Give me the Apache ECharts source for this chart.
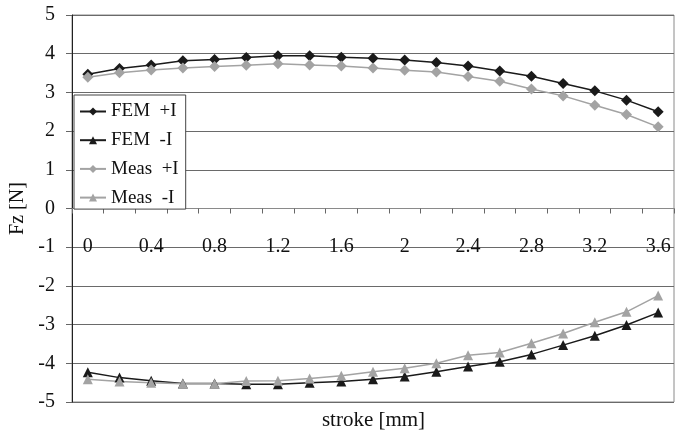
<!DOCTYPE html>
<html>
<head>
<meta charset="utf-8">
<script src="https://cdn.jsdelivr.net/npm/echarts@6/dist/echarts.min.js"></script>
<style>
  html, body { margin: 0; padding: 0; background: #fff; }
  #chart { width: 675px; height: 434px; }
</style>
</head>
<body>
<div id="chart"></div>
<script>
// Stroke positions [mm]
const stroke = ['0','0.2','0.4','0.6','0.8','1','1.2','1.4','1.6','1.8','2','2.2','2.4','2.6','2.8','3','3.2','3.4','3.6'];

// Vertical force Fz [N]
const femPos  = [3.47, 3.62, 3.71, 3.82, 3.85, 3.90, 3.95, 3.95, 3.91, 3.88, 3.84, 3.77, 3.68, 3.55, 3.42, 3.23, 3.04, 2.80, 2.50];
const femNeg  = [-4.23, -4.37, -4.45, -4.52, -4.52, -4.54, -4.54, -4.50, -4.47, -4.41, -4.34, -4.22, -4.08, -3.96, -3.77, -3.53, -3.29, -3.01, -2.69];
const measPos = [3.39, 3.51, 3.58, 3.63, 3.67, 3.70, 3.74, 3.71, 3.68, 3.63, 3.57, 3.53, 3.41, 3.29, 3.09, 2.91, 2.67, 2.43, 2.11];
const measNeg = [-4.41, -4.47, -4.50, -4.53, -4.53, -4.46, -4.45, -4.39, -4.32, -4.22, -4.13, -4.00, -3.79, -3.72, -3.48, -3.23, -2.94, -2.67, -2.25];

const seriesNames = ['FEM  +I', 'FEM  -I', 'Meas  +I', 'Meas  -I'];

const serif = '"Liberation Serif", "DejaVu Serif", serif';
const dark = '#1a1a1a';
const light = '#a3a3a3';

// Plot rectangle
const gridTop = 15, gridBottom = 32, chartH = 434;
const plotH = chartH - gridTop - gridBottom;
// The stroke axis runs through Fz = 0, the middle of the -5..5 range
const zeroShift = -plotH / 2;

const chart = echarts.init(document.getElementById('chart'), null, { renderer: 'canvas' });

function line(name, data, color, symbol, size) {
  return {
    name: name,
    type: 'line',
    data: data,
    symbol: symbol,
    symbolSize: size,
    itemStyle: { color: color },
    lineStyle: { color: color, width: 1.5 },
    z: 3
  };
}

chart.setOption({
  animation: false,
  backgroundColor: '#fff',
  grid: {
    left: 72, right: 1, top: gridTop, bottom: gridBottom,
    outerBoundsMode: 'none',
    containLabel: false,
    show: true,
    borderColor: '#8a8a8a',
    borderWidth: 1
  },
  legend: {
    orient: 'vertical',
    left: 74, top: 95,
    data: seriesNames,
    backgroundColor: '#fff',
    borderColor: '#444',
    borderWidth: 1,
    padding: [7, 7, 2, 5],
    itemGap: 9.7,
    itemWidth: 26,
    itemHeight: 10,
    textStyle: { fontFamily: serif, fontSize: 19, color: '#111' },
    z: 10
  },
  xAxis: {
    type: 'category',
    data: stroke,
    boundaryGap: true,
    position: 'bottom',
    offset: zeroShift,
    axisLine: { onZero: false, lineStyle: { color: '#8a8a8a', width: 1 } },
    axisTick: { show: true, interval: 0, length: 5, lineStyle: { color: '#666' } },
    axisLabel: {
      interval: 1,
      margin: 28,
      fontFamily: serif,
      fontSize: 20,
      color: '#111'
    },
    splitLine: { show: false }
  },
  yAxis: {
    type: 'value',
    min: -5, max: 5, interval: 1,
    name: 'Fz [N]',
    nameLocation: 'middle',
    nameGap: 29,
    nameTextStyle: { fontFamily: serif, fontSize: 20, color: '#111' },
    axisLine: { show: true, lineStyle: { color: '#222', width: 1 } },
    axisTick: { show: true, length: 6, lineStyle: { color: '#666' } },
    axisLabel: { margin: 17, fontFamily: serif, fontSize: 20, color: '#111' },
    splitLine: { show: true, lineStyle: { color: '#6a6a6a', width: 1 } }
  },
  graphic: [{
    type: 'text',
    x: 373.5,
    y: 420,
    style: {
      text: 'stroke [mm]',
      font: '21px ' + serif,
      fill: '#111',
      align: 'center',
      verticalAlign: 'middle'
    }
  }],
  series: [
    line(seriesNames[0], femPos, dark, 'diamond', 11),
    line(seriesNames[1], femNeg, dark, 'triangle', 10),
    line(seriesNames[2], measPos, light, 'diamond', 11),
    line(seriesNames[3], measNeg, light, 'triangle', 10)
  ]
});
</script>
</body>
</html>
